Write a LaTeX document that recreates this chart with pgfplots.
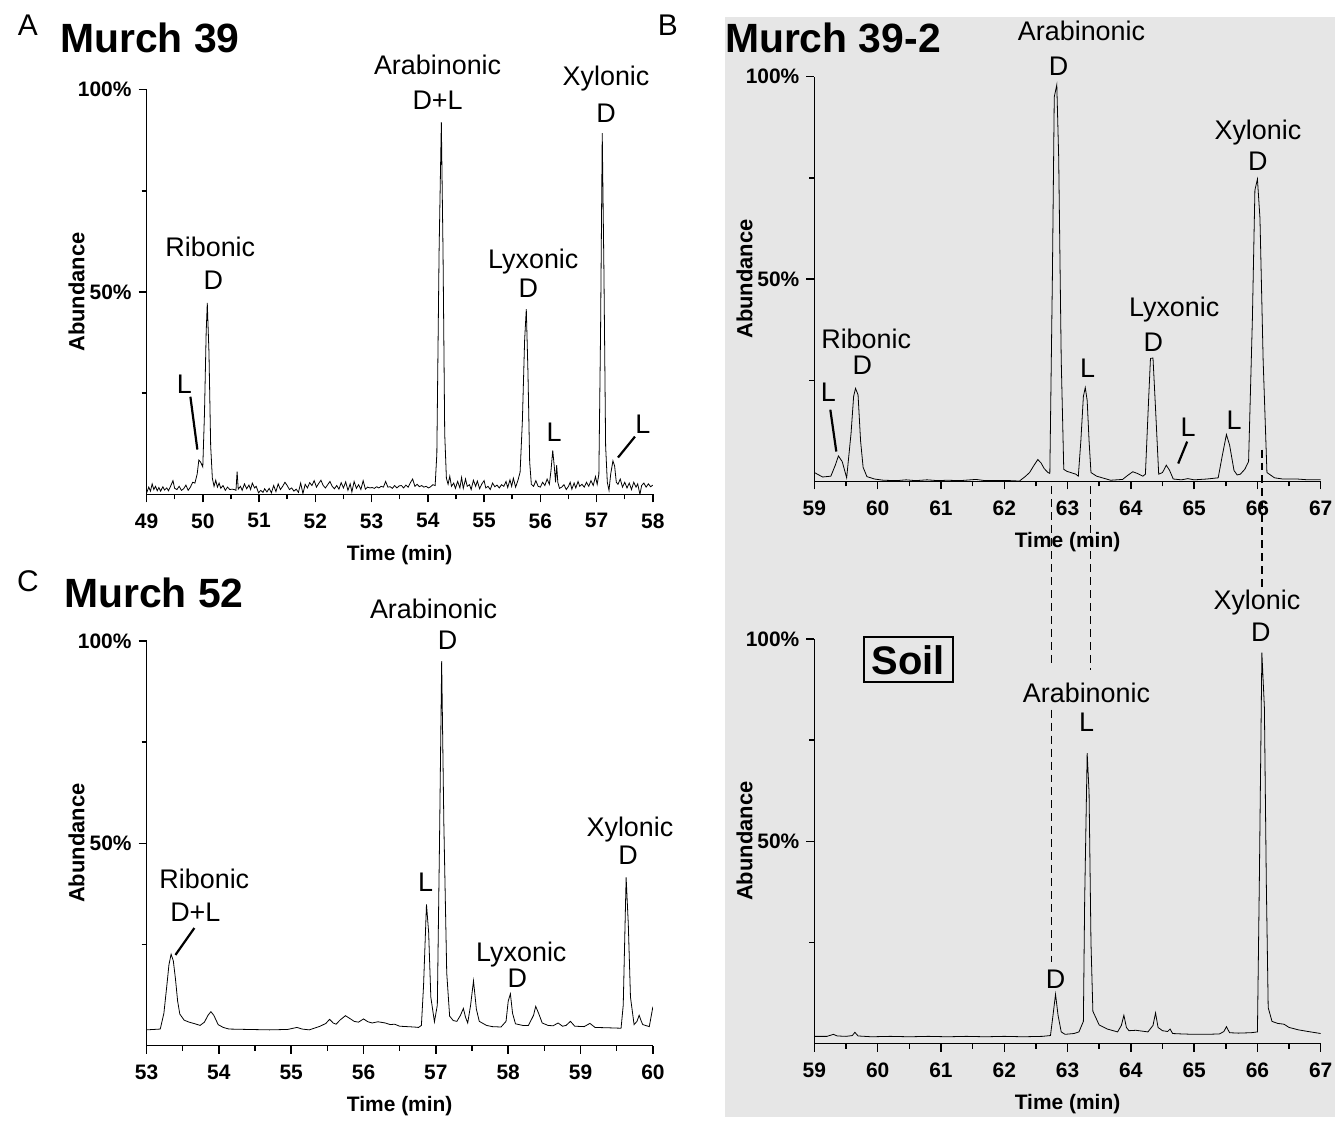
\documentclass[border=0pt]{standalone}
\usepackage{fontspec}
\setmainfont{Liberation Sans}
\usepackage{pgfplots}
\pgfplotsset{compat=1.18}
\definecolor{panelgray}{RGB}{230,230,230}

\pgfplotsset{
  chrom/.style={
    scale only axis, width=254pt, height=203pt,
    anchor=south west,
    axis lines=left, axis line style={-, line width=0.75pt},
    ymin=0, ymax=100,
    ytick={50,100}, yticklabels={50\%,100\%},
    minor ytick={25,75},
    xtick distance=1, minor x tick num=1,
    tick align=outside,
    major tick length=4pt, minor tick length=2.5pt,
    every tick/.style={black, line width=0.75pt},
    /pgf/number format/assume math mode=true,
    ticklabel style={font=\bfseries\fontsize{10.5}{12}\selectfont},
    xticklabel style={yshift=-2pt},
    xlabel={Time (min)}, ylabel={Abundance},
    every axis x label/.style={at={(axis description cs:0.5,-0.150)}, anchor=center,
      font=\bfseries\fontsize{10.5}{12}\selectfont},
    every axis y label/.style={at={(axis description cs:-0.138,0.5)}, anchor=center, rotate=90,
      font=\bfseries\fontsize{11}{12}\selectfont},
    cycle list={{black, mark=none, line width=0.6pt, line join=round}},
  },
}
\tikzset{
  lab/.style={font=\fontsize{13.5}{15}\selectfont, inner sep=0pt, text height=9.7pt, text depth=0pt, anchor=center},
  ttl/.style={font=\bfseries\fontsize{20.5}{24}\selectfont, inner sep=0pt, text height=14.7pt, text depth=0pt, anchor=west},
  pl/.style={font=\fontsize{15}{17}\selectfont, inner sep=0pt, text height=10.7pt, text depth=0pt, anchor=center},
}

\begin{document}
\begin{tikzpicture}
\begin{scope}[x=0.5pt,y=-0.5pt]
  \useasboundingbox (0,0) rectangle (1339,1121);
  \fill[panelgray] (727,17) rectangle (1339,1121);
\end{scope}

% A: Murch 39
\begin{axis}[chrom, at={(147*0.5pt,-496*0.5pt)}, xmin=49, xmax=58]
\addplot coordinates {
(49.00,0.3) (49.04,1.8) (49.07,0.8) (49.10,2.6) (49.13,1.2) (49.16,2.0) (49.19,0.9) (49.22,1.7)
(49.25,0.8) (49.29,1.9) (49.32,1.1) (49.36,1.6) (49.39,0.9) (49.43,2.1) (49.47,3.4) (49.50,1.5)
(49.54,1.2) (49.58,2.0) (49.62,1.0) (49.66,1.4) (49.70,2.3) (49.74,1.0) (49.78,1.8) (49.82,3.0)
(49.86,2.8) (49.90,5.0) (49.93,8.5) (49.96,8.0) (50.00,6.8) (50.03,20.0) (50.06,40.0) (50.08,47.3)
(50.11,35.0) (50.14,12.0) (50.17,4.0) (50.20,2.0) (50.23,3.5) (50.26,1.8) (50.29,2.8) (50.32,1.5)
(50.36,2.2) (50.40,1.0) (50.44,1.8) (50.48,1.2) (50.52,1.3) (50.56,1.2) (50.59,1.0) (50.61,5.6)
(50.63,1.3) (50.67,2.0) (50.70,1.0) (50.74,2.6) (50.78,1.4) (50.82,2.3) (50.85,1.2) (50.88,2.8)
(50.92,1.6) (50.95,2.0) (50.99,0.4) (51.03,1.0) (51.07,0.5) (51.10,1.4) (51.14,0.6) (51.18,1.5)
(51.22,0.4) (51.26,2.2) (51.30,0.7) (51.34,2.6) (51.38,1.2) (51.42,2.0) (51.46,3.0) (51.50,2.2)
(51.54,1.2) (51.58,1.6) (51.62,0.8) (51.66,1.3) (51.70,0.5) (51.74,2.8) (51.78,0.2) (51.82,2.5)
(51.86,1.6) (51.90,2.9) (51.94,2.2) (51.98,3.4) (52.02,1.8) (52.06,2.7) (52.10,3.5) (52.14,2.2)
(52.18,1.6) (52.22,2.4) (52.26,3.2) (52.30,2.0) (52.34,1.4) (52.38,2.2) (52.42,1.3) (52.46,2.9)
(52.50,1.6) (52.54,3.1) (52.58,1.0) (52.62,2.6) (52.65,0.6) (52.69,3.2) (52.73,1.5) (52.77,2.4)
(52.81,1.2) (52.85,3.4) (52.89,1.3) (52.93,1.8) (52.97,1.6) (53.01,1.7) (53.05,1.5) (53.09,1.9)
(53.13,1.6) (53.17,2.0) (53.21,1.8) (53.25,3.2) (53.29,1.8) (53.33,1.9) (53.37,1.5) (53.41,2.2)
(53.45,1.6) (53.49,2.1) (53.53,2.2) (53.57,1.6) (53.61,2.3) (53.65,1.8) (53.69,2.9) (53.73,3.8)
(53.77,2.0) (53.81,2.5) (53.85,1.9) (53.89,2.2) (53.93,1.8) (53.97,2.0) (54.01,1.6) (54.05,1.9)
(54.09,2.4) (54.13,2.2) (54.16,10.0) (54.20,60.0) (54.24,92.0) (54.27,60.0) (54.30,15.0) (54.33,4.0)
(54.36,2.5) (54.39,4.5) (54.42,2.0) (54.46,2.8) (54.49,1.5) (54.53,3.2) (54.57,1.6) (54.60,4.2)
(54.63,1.5) (54.67,3.8) (54.70,2.0) (54.74,2.4) (54.77,1.2) (54.81,3.5) (54.85,2.0) (54.88,3.3)
(54.92,1.4) (54.96,2.6) (55.00,3.4) (55.03,1.6) (55.07,2.0) (55.11,1.2) (55.15,2.8) (55.19,1.9)
(55.23,2.3) (55.27,1.6) (55.31,2.4) (55.35,2.0) (55.39,3.2) (55.42,1.7) (55.46,3.6) (55.49,2.0)
(55.52,4.0) (55.56,1.8) (55.60,3.4) (55.64,5.5) (55.68,18.0) (55.72,38.0) (55.75,45.8) (55.78,30.0)
(55.81,8.0) (55.84,2.5) (55.88,2.0) (55.92,3.4) (55.96,2.0) (56.00,1.8) (56.04,3.0) (56.08,2.2)
(56.12,3.8) (56.16,2.5) (56.19,6.0) (56.22,10.9) (56.25,6.5) (56.27,3.0) (56.29,7.2) (56.31,3.0)
(56.34,1.5) (56.38,1.8) (56.42,2.4) (56.46,1.2) (56.50,2.0) (56.53,3.0) (56.56,1.3) (56.60,2.8)
(56.63,1.6) (56.67,3.2) (56.70,2.0) (56.74,2.5) (56.78,1.8) (56.82,3.0) (56.86,2.0) (56.90,3.4)
(56.94,2.2) (56.98,4.4) (57.01,2.5) (57.04,5.0) (57.07,40.0) (57.10,89.3) (57.13,55.0) (57.16,12.0)
(57.19,3.0) (57.22,1.0) (57.25,5.0) (57.29,8.3) (57.32,7.0) (57.35,3.0) (57.38,2.5) (57.42,3.8)
(57.46,1.8) (57.50,3.0) (57.54,1.6) (57.58,2.8) (57.62,1.2) (57.66,3.0) (57.70,1.8) (57.73,2.6)
(57.77,0.0) (57.80,2.2) (57.84,2.8) (57.88,1.8) (57.92,2.6) (57.96,1.9) (58.00,2.3)
};
\end{axis}

% B: Murch 39-2
\begin{axis}[chrom, at={(817*0.5pt,-483*0.5pt)}, xmin=59, xmax=67]
\addplot coordinates {
(59.00,2.2) (59.13,1.1) (59.26,1.3) (59.33,4.0) (59.38,6.3) (59.44,4.9) (59.51,0.9) (59.58,12.0)
(59.62,21.0) (59.65,23.0) (59.69,21.4) (59.73,10.0) (59.77,3.5) (59.83,1.2) (59.95,0.6) (60.09,0.3)
(60.30,0.2) (60.45,0.4) (60.60,0.2) (60.78,0.4) (60.95,0.2) (61.10,0.3) (61.30,0.2) (61.55,0.5)
(61.70,0.2) (61.90,0.2) (62.10,0.2) (62.24,0.1) (62.33,1.2) (62.40,2.2) (62.47,4.0) (62.53,5.4)
(62.58,4.6) (62.63,3.2) (62.69,2.2) (62.72,2.0) (62.76,50.0) (62.79,95.0) (62.83,98.0) (62.86,80.0)
(62.90,30.0) (62.94,3.0) (62.99,2.5) (63.13,1.8) (63.17,1.3) (63.21,10.0) (63.25,21.0) (63.28,23.2)
(63.31,20.0) (63.34,10.0) (63.37,2.2) (63.46,1.3) (63.68,0.3) (63.87,0.5) (63.95,1.5) (64.03,2.4)
(64.10,2.0) (64.19,1.3) (64.23,1.8) (64.28,20.0) (64.31,30.4) (64.35,30.5) (64.39,18.0) (64.44,1.8)
(64.50,2.2) (64.56,4.0) (64.61,2.8) (64.67,0.6) (64.80,0.4) (64.90,0.7) (65.00,0.4) (65.20,0.6)
(65.38,0.9) (65.44,6.0) (65.51,11.6) (65.56,9.0) (65.63,2.7) (65.68,1.6) (65.73,1.8) (65.80,3.0)
(65.86,4.9) (65.92,40.0) (65.96,72.0) (66.00,74.7) (66.04,65.0) (66.09,30.0) (66.15,2.2) (66.27,0.9)
(66.40,0.6) (66.63,0.6) (66.80,0.4) (67.00,0.4)
};
\end{axis}

% Soil
\begin{axis}[chrom, at={(817*0.5pt,-1047*0.5pt)}, xmin=59, xmax=67]
\addplot coordinates {
(59.00,1.8) (59.20,1.8) (59.30,2.3) (59.36,1.9) (59.50,1.8) (59.60,2.0) (59.64,2.8) (59.69,1.9)
(59.90,1.7) (60.20,1.8) (60.50,1.7) (60.80,1.8) (61.10,1.7) (61.40,1.8) (61.70,1.7) (62.00,1.8)
(62.30,1.7) (62.60,1.8) (62.73,2.0) (62.77,7.0) (62.81,12.2) (62.85,7.0) (62.90,2.9) (62.96,2.3)
(63.10,2.5) (63.18,2.9) (63.25,5.5) (63.27,35.0) (63.31,71.8) (63.34,62.0) (63.37,25.0) (63.40,8.0)
(63.50,4.6) (63.63,3.6) (63.79,2.9) (63.85,4.5) (63.89,7.0) (63.93,4.0) (63.97,3.2) (64.08,3.3)
(64.27,2.9) (64.35,4.5) (64.39,7.6) (64.43,4.0) (64.50,3.2) (64.58,3.0) (64.62,3.6) (64.66,2.5)
(64.80,2.4) (65.00,2.3) (65.20,2.3) (65.40,2.4) (65.47,3.0) (65.51,4.2) (65.56,2.7) (65.70,2.6)
(65.90,2.7) (66.00,2.9) (66.03,40.0) (66.07,96.6) (66.11,83.0) (66.14,40.0) (66.17,8.9) (66.23,5.5)
(66.32,5.0) (66.42,4.8) (66.50,4.0) (66.65,3.4) (66.80,3.0) (67.00,2.5)
};
\end{axis}

% C: Murch 52
\begin{axis}[chrom, at={(147*0.5pt,-1049*0.5pt)}, xmin=53, xmax=60]
\addplot coordinates {
(53.00,3.9) (53.10,4.0) (53.19,4.1) (53.24,8.0) (53.28,14.7) (53.31,20.0) (53.34,22.6) (53.37,21.0)
(53.40,16.5) (53.43,11.0) (53.46,7.8) (53.52,6.3) (53.59,5.8) (53.67,5.4) (53.74,5.0) (53.80,5.8)
(53.85,7.5) (53.89,8.4) (53.93,7.5) (53.99,5.2) (54.06,4.5) (54.14,4.1) (54.40,4.0) (54.70,3.9)
(54.95,4.0) (55.08,4.5) (55.15,4.1) (55.25,3.9) (55.40,4.8) (55.48,5.5) (55.53,6.5) (55.58,5.6)
(55.62,5.3) (55.68,6.4) (55.75,7.4) (55.82,6.6) (55.87,6.0) (55.93,5.8) (56.00,6.6) (56.06,5.9)
(56.12,5.6) (56.20,5.9) (56.30,5.6) (56.37,5.2) (56.43,5.3) (56.50,4.8) (56.60,4.7) (56.70,4.6)
(56.76,4.5) (56.80,5.0) (56.83,15.0) (56.87,34.9) (56.90,28.0) (56.93,12.0) (56.98,5.9) (57.02,10.0)
(57.05,50.0) (57.08,95.0) (57.11,55.0) (57.15,18.0) (57.19,7.3) (57.24,6.2) (57.29,6.0) (57.34,7.5)
(57.38,9.2) (57.41,7.0) (57.44,5.6) (57.48,10.0) (57.52,16.0) (57.56,9.0) (57.60,6.0) (57.70,5.0)
(57.78,4.7) (57.90,4.6) (57.97,6.0) (58.00,11.0) (58.03,12.8) (58.06,8.0) (58.10,5.4) (58.20,5.0)
(58.28,5.0) (58.35,7.5) (58.38,9.7) (58.42,8.0) (58.47,5.6) (58.55,5.0) (58.62,4.9) (58.69,5.6)
(58.75,4.8) (58.80,5.0) (58.86,6.0) (58.92,4.8) (59.05,4.7) (59.13,5.5) (59.20,4.5) (59.40,4.4)
(59.56,4.3) (59.59,10.0) (59.63,41.6) (59.66,30.0) (59.69,12.0) (59.74,5.2) (59.78,6.0) (59.81,7.5)
(59.84,6.0) (59.86,5.2) (59.95,4.7) (60.00,9.6)
};
\end{axis}

% annotations, in pixel units of the reference
\begin{scope}[x=0.5pt,y=-0.5pt]
  % A
  \node[pl] at (28,25) {A};
  \node[ttl] at (60,38) {Murch 39};
  \node[lab] at (439,65) {Arabinonic};
  \node[lab] at (439,100) {D+L};
  \node[lab] at (608,76) {Xylonic};
  \node[lab] at (608,113) {D};
  \node[lab] at (211,248) {Ribonic};
  \node[lab] at (214,281) {D};
  \node[lab] at (535,260) {Lyxonic};
  \node[lab] at (530,289) {D};
  \node[lab] at (185,385) {L};
  \draw[line width=1.1pt] (191,398) -- (198,451);
  \node[lab] at (556,433) {L};
  \node[lab] at (645,425) {L};
  \draw[line width=1.1pt] (637,438) -- (620,459);
  % B
  \node[pl] at (670,25) {B};
  \node[ttl] at (727,38) {Murch 39-2};
  \node[lab] at (1085,31) {Arabinonic};
  \node[lab] at (1062,66) {D};
  \node[lab] at (1262,130) {Xylonic};
  \node[lab] at (1262,161) {D};
  \node[lab] at (869,340) {Ribonic};
  \node[lab] at (865,366) {D};
  \node[lab] at (831,393) {L};
  \draw[line width=1.1pt] (833,411) -- (839,453);
  \node[lab] at (1091,369) {L};
  \node[lab] at (1178,308) {Lyxonic};
  \node[lab] at (1157,343) {D};
  \node[lab] at (1192,428) {L};
  \draw[line width=1.1pt] (1191,443) -- (1182,465);
  \node[lab] at (1238,421) {L};
  % Soil
  \node[draw, line width=1pt, inner sep=4pt, font=\bfseries\fontsize{20}{22}\selectfont,
        text height=14.5pt, text depth=0pt] at (911,662) {Soil};
  \node[lab] at (1261,602) {Xylonic};
  \node[lab] at (1265,634) {D};
  \node[lab] at (1090,695) {Arabinonic};
  \node[lab] at (1090,724) {L};
  \node[lab] at (1059,982) {D};
  % dashed guides between B and Soil
  \begin{scope}[dash pattern=on 4pt off 2.5pt, line width=0.6pt]
    \draw (1055,488) -- (1055,665);
    \draw (1055,712) -- (1055,965);
    \draw (1094,488) -- (1094,672);
    \draw (1266,451) -- (1266,590);
  \end{scope}
  % C
  \node[pl] at (28,583) {C};
  \node[ttl] at (64,595) {Murch 52};
  \node[lab] at (435,611) {Arabinonic};
  \node[lab] at (449,642) {D};
  \node[lab] at (205,882) {Ribonic};
  \node[lab] at (196,915) {D+L};
  \draw[line width=1.1pt] (195,931) -- (176,958);
  \node[lab] at (427,885) {L};
  \node[lab] at (523,955) {Lyxonic};
  \node[lab] at (519,981) {D};
  \node[lab] at (632,829) {Xylonic};
  \node[lab] at (630,858) {D};
\end{scope}
\end{tikzpicture}
\end{document}
